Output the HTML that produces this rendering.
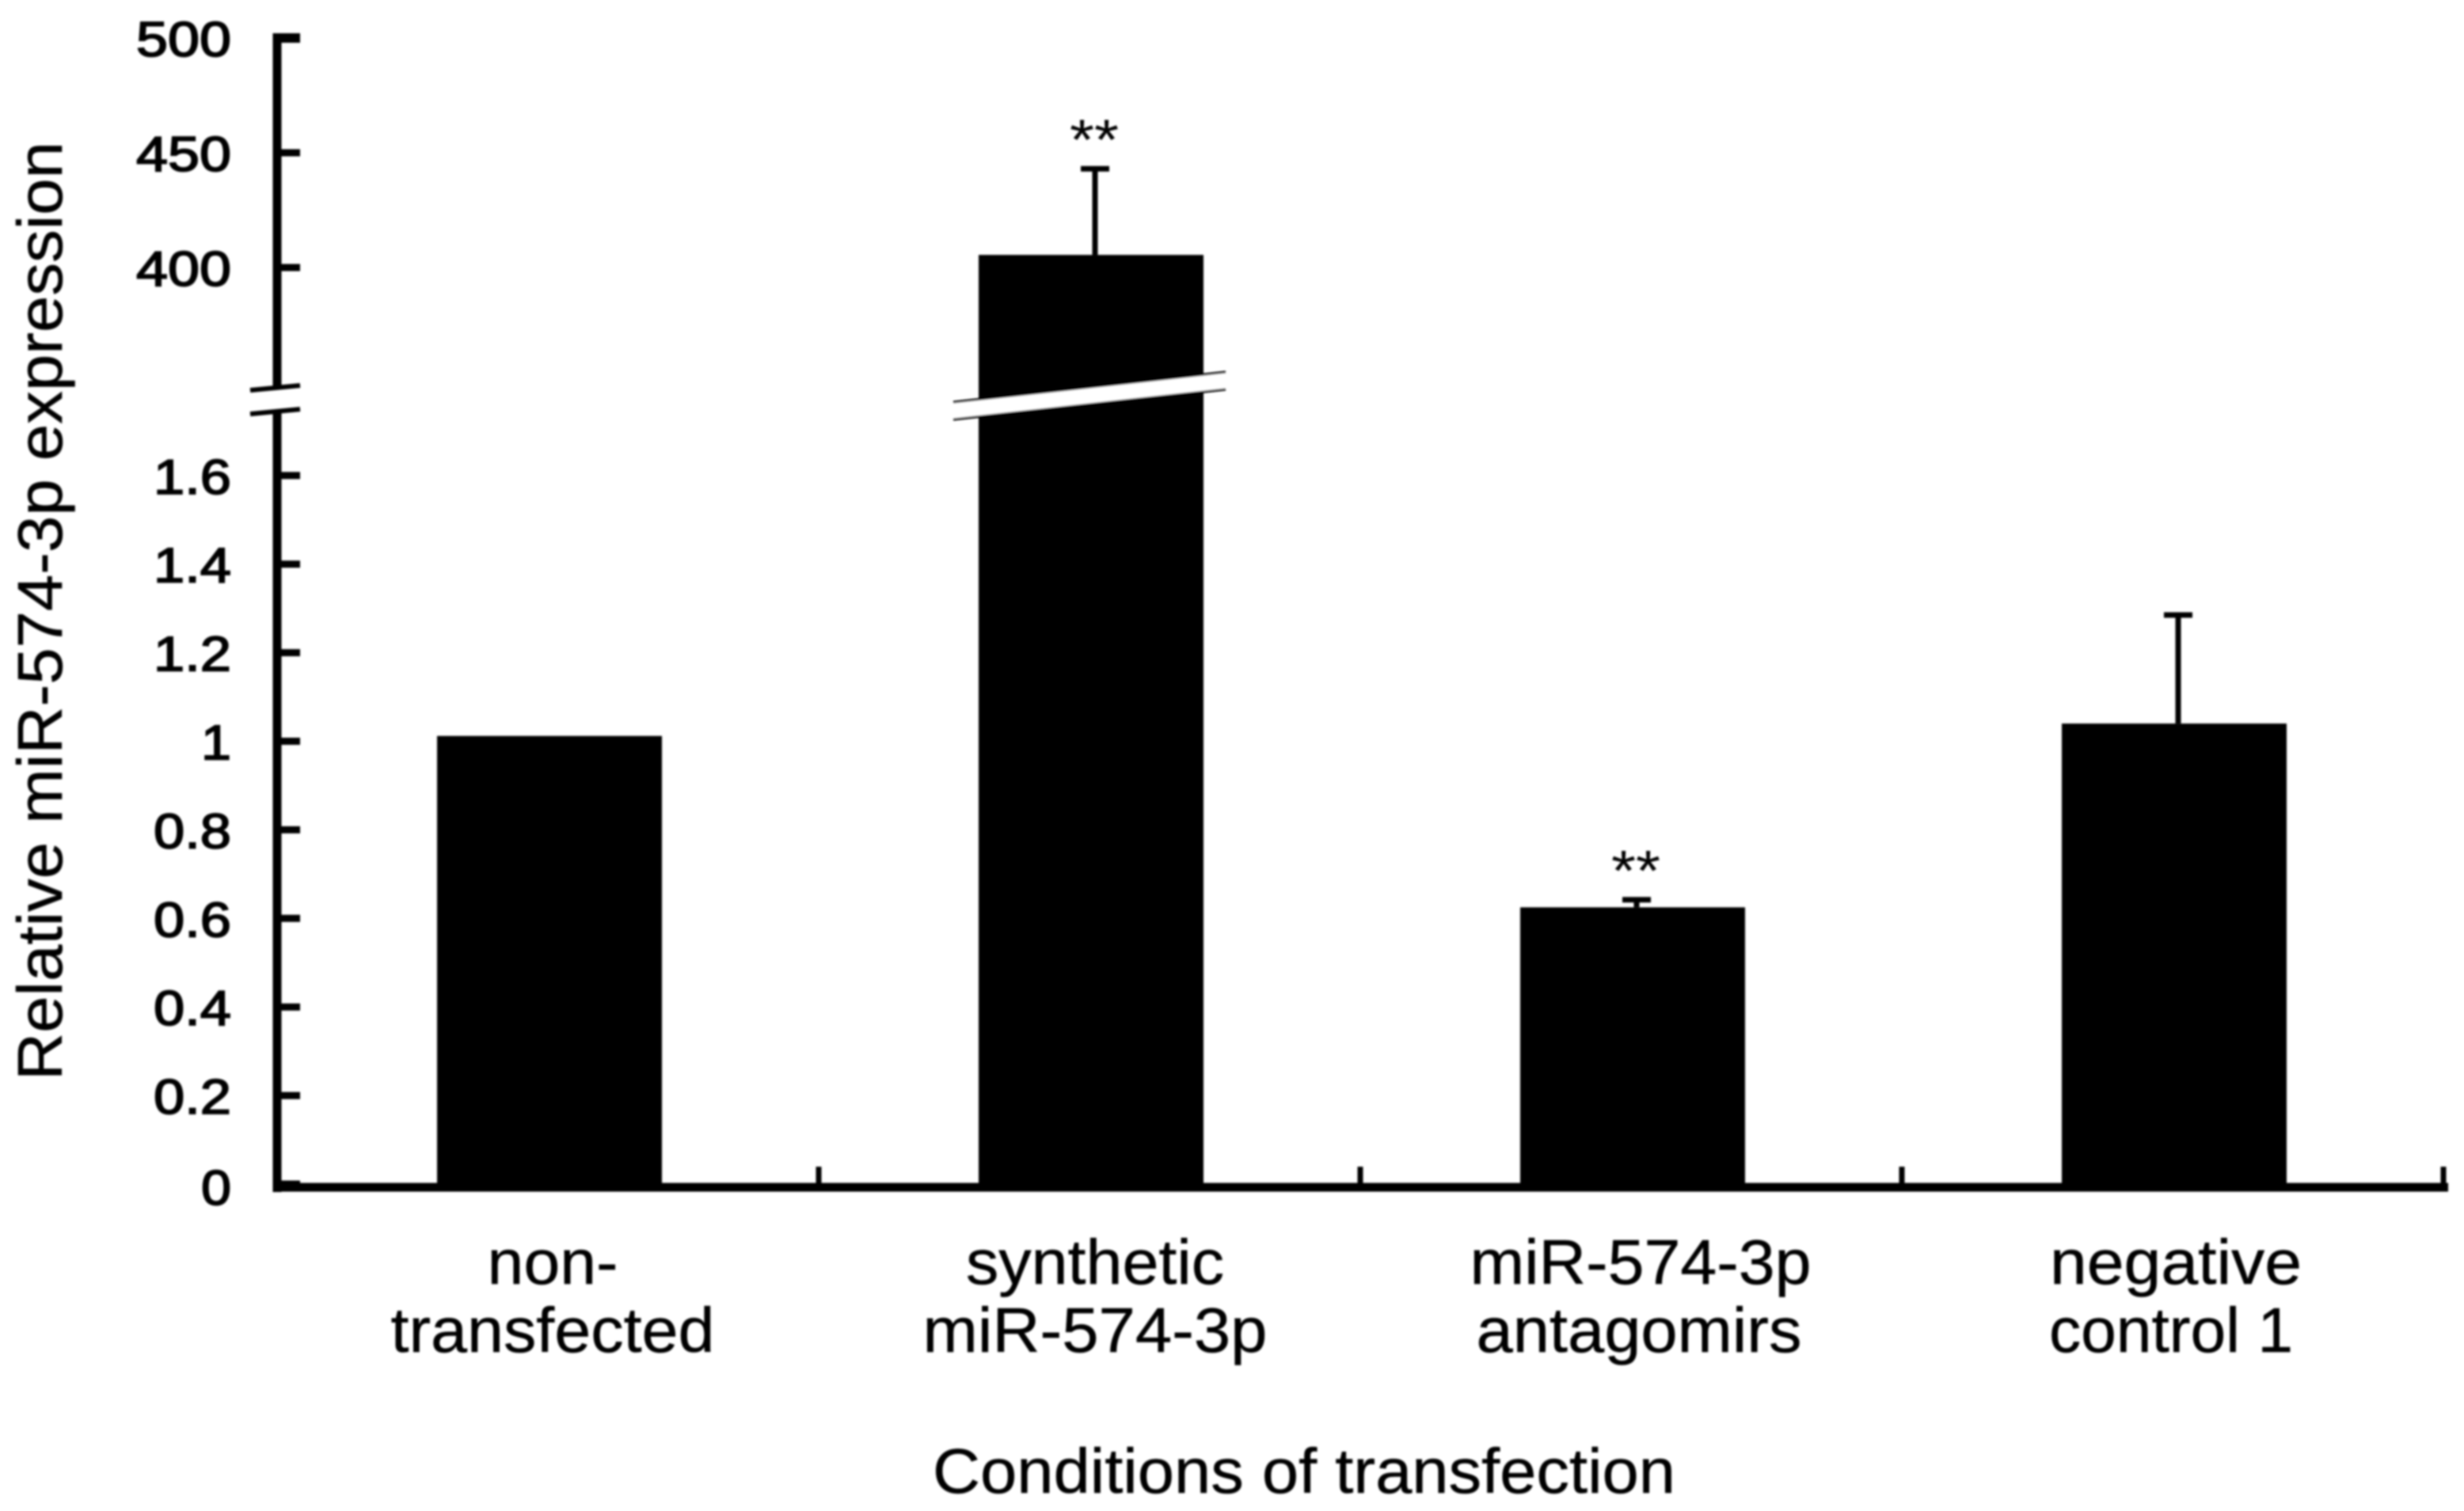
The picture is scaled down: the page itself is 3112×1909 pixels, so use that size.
<!DOCTYPE html>
<html lang="en">
<head>
<meta charset="utf-8">
<title>Relative miR-574-3p expression</title>
<style>
  html, body { margin: 0; padding: 0; background: #fff; }
  body { width: 3112px; height: 1909px; overflow: hidden; }
  svg { display: block; }
  text { font-family: "Liberation Sans", Arial, sans-serif; fill: #000; }
</style>
</head>
<body>
<svg id="chart" xmlns="http://www.w3.org/2000/svg" width="3112" height="1909" viewBox="0 0 3112 1909">
  <defs><filter id="soft" x="-2%" y="-2%" width="104%" height="104%"><feGaussianBlur stdDeviation="1.3"/></filter></defs>
  <rect width="3112" height="1909" fill="#fff"/>
  <g id="plot" filter="url(#soft)"></g>
</svg>
<script>
const categories = [["non-", "transfected"], ["synthetic", "miR-574-3p"], ["miR-574-3p", "antagomirs"], ["negative", "control 1"]];
const barValues = [1.012, 405.5, 0.625, 1.04];
const errorTops = [1.012, 443, 0.642, 1.285];
const lowTicks = [0, 0.2, 0.4, 0.6, 0.8, 1, 1.2, 1.4, 1.6];
const highTicks = [400, 450, 500];
const significance = ["", "**", "**", ""];

const NS = "http://www.w3.org/2000/svg";
const plot = document.getElementById("plot");
const axisX = 350, baseY = 1500, rightX = 3086, breakTop = 490, breakBottom = 520;
const slotW = (rightX - axisX) / categories.length;
const barW = 284;

function yLow(v) { return 1496 - v * 559.5; }
function yHigh(v) { return 338 - (v - 400) * 2.9; }
function y(v) { return v > 2 ? yHigh(v) : yLow(v); }
function cx(i) { return axisX + slotW * (i + 0.5) + 2; }

function shape(tag, attrs) {
  const el = document.createElementNS(NS, tag);
  for (const k in attrs) el.setAttribute(k, attrs[k]);
  plot.appendChild(el);
  return el;
}
function line(x1, y1, x2, y2, w) {
  return shape("line", { x1: x1, y1: y1, x2: x2, y2: y2, stroke: "#000", "stroke-width": w });
}
function label(str, x, yy, size, anchor, len, heavy) {
  const el = shape("text", { x: x, y: yy, "font-size": size, "text-anchor": anchor });
  if (len) {
    el.setAttribute("textLength", len);
    el.setAttribute("lengthAdjust", "spacingAndGlyphs");
  }
  if (heavy) {
    el.setAttribute("stroke", "#000");
    el.setAttribute("stroke-width", heavy);
  }
  el.textContent = str;
  return el;
}

/* bars */
barValues.forEach(function (v, i) {
  const top = y(v);
  const bar = shape("rect", { x: cx(i) - barW / 2, y: top, width: barW, height: baseY - top, fill: "#000" });
  
  
  if (errorTops[i] > v) {
    const stem = line(cx(i) + 5, top, cx(i) + 5, y(errorTops[i]), 7);
    
    
    const cap = line(cx(i) - 13, y(errorTops[i]), cx(i) + 23, y(errorTops[i]), 7);
    
    
  }
  if (significance[i]) {
    const star = label(significance[i], cx(i) + 4, y(errorTops[i]) - 12, 72, "middle", 62);
    
    
  }
});

/* axis break band through the tall bar */
const band = shape("polygon", {
  points: "1204,508 1548,470 1548,492 1204,530",
  fill: "#fff"
});


const bandTop = line(1204, 508, 1548, 470, 3);


const bandBottom = line(1204, 530, 1548, 492, 3);



/* y axis */
const axisUpper = line(axisX, yHigh(500) - 6, axisX, breakTop, 11);


const axisLower = line(axisX, breakBottom, axisX, baseY + 6, 11);


const markTop = line(316, breakTop + 3, 379, breakTop - 3, 6);


const markBottom = line(316, breakBottom + 3, 379, breakBottom - 3, 6);



function tickLen(value) {
  const s = String(value);
  if (s.length === 1) return 38;
  return value > 2 ? 120 : 98;
}
function yTick(value, pos) {
  const t = line(axisX, pos, 379, pos, value === 500 ? 12 : 9);
  
  
  const l = label(String(value), 292, pos + (value === 0 ? 26 : 23), 62, "end", tickLen(value), 1.8);
  
  
}
lowTicks.forEach(function (v) { yTick(v, yLow(v)); });
highTicks.forEach(function (v) { yTick(v, yHigh(v)); });

/* x axis */
const xAxis = line(axisX - 5, baseY, rightX + 6, baseY, 11);


for (let i = 1; i <= categories.length; i++) {
  const tx = axisX + slotW * i;
  const t = line(tx, baseY - 26, tx, baseY, 7);
  
  
}

/* category labels */
const lineLens = [[165, 409], [326, 435], [431, 411], [318, 308]];
const labelShift = [[4, 4], [5, 5], [10, 8], [2, -4]];
categories.forEach(function (pair, i) {
  pair.forEach(function (s, j) {
    const l = label(s, cx(i) + labelShift[i][j], 1622 + j * 86, 80, "middle", lineLens[i][j], 0.5);
    
    
  });
});

/* axis titles */
const xTitle = label("Conditions of transfection", 1647, 1886, 80, "middle", 938, 0.5);


const yTitle = label("Relative miR-574-3p expression", 0, 0, 80, "middle", 1186, 0.5);
yTitle.setAttribute("transform", "translate(78 772) rotate(-90)");


</script>
</body>
</html>
